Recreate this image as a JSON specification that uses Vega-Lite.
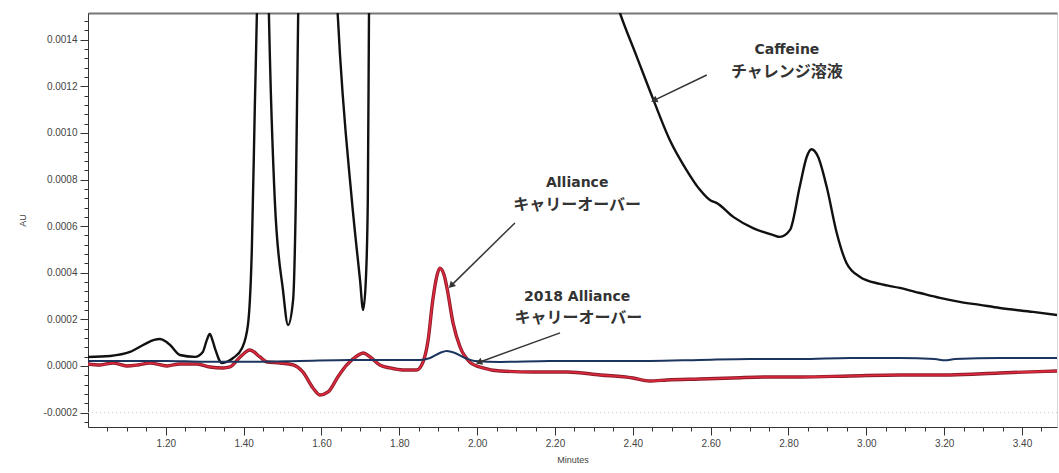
{
  "$schema": "https://vega.github.io/schema/vega-lite/v6.json",
  "width": 969,
  "height": 414,
  "autosize": {"type": "none"},
  "padding": {"left": 88, "top": 13, "right": 2, "bottom": 46},
  "background": "white",
  "config": {
    "view": {"stroke": "#d8d8d8", "strokeWidth": 1},
    "axis": {
      "grid": false,
      "labelFont": "Liberation Sans",
      "titleFont": "Liberation Sans",
      "labelColor": "#444",
      "titleColor": "#444",
      "domainColor": "#333",
      "tickColor": "#333",
      "labelFontSize": 10,
      "titleFontSize": 9,
      "titleFontWeight": "normal"
    }
  },
  "datasets": {
    "caffeine": [
      {"t": 1.000, "au": 0.0000386}, {"t": 1.057, "au": 0.000043}, {"t": 1.108, "au": 0.00006},
      {"t": 1.146, "au": 0.000094}, {"t": 1.170, "au": 0.000112}, {"t": 1.185, "au": 0.000116},
      {"t": 1.200, "au": 0.000105}, {"t": 1.211, "au": 0.00009}, {"t": 1.236, "au": 0.000047},
      {"t": 1.275, "au": 0.000039}, {"t": 1.295, "au": 0.00006}, {"t": 1.305, "au": 0.00011},
      {"t": 1.313, "au": 0.000137}, {"t": 1.320, "au": 0.00011}, {"t": 1.326, "au": 0.000077},
      {"t": 1.344, "au": 0.000013}, {"t": 1.373, "au": 0.000034}, {"t": 1.396, "au": 0.000077},
      {"t": 1.411, "au": 0.000176}, {"t": 1.421, "au": 0.0005}, {"t": 1.429, "au": 0.00114},
      {"t": 1.434, "au": 0.001515}, {"t": 1.447, "au": 0.0035}, {"t": 1.465, "au": 0.0015},
      {"t": 1.480, "au": 0.000712}, {"t": 1.501, "au": 0.000326}, {"t": 1.514, "au": 0.000176},
      {"t": 1.527, "au": 0.000283}, {"t": 1.534, "au": 0.000712}, {"t": 1.540, "au": 0.0015},
      {"t": 1.591, "au": 0.004}, {"t": 1.642, "au": 0.0015}, {"t": 1.678, "au": 0.000712},
      {"t": 1.699, "au": 0.000369}, {"t": 1.707, "au": 0.00024}, {"t": 1.714, "au": 0.00037},
      {"t": 1.719, "au": 0.000712}, {"t": 1.722, "au": 0.0015}, {"t": 1.75, "au": 0.006},
      {"t": 2.0, "au": 0.006}, {"t": 2.30, "au": 0.0019}, {"t": 2.367, "au": 0.001515},
      {"t": 2.410, "au": 0.001328}, {"t": 2.453, "au": 0.001142}, {"t": 2.495, "au": 0.00097},
      {"t": 2.538, "au": 0.000841}, {"t": 2.573, "au": 0.000755}, {"t": 2.600, "au": 0.00071},
      {"t": 2.615, "au": 0.0007}, {"t": 2.658, "au": 0.00064}, {"t": 2.709, "au": 0.000592},
      {"t": 2.761, "au": 0.000562}, {"t": 2.778, "au": 0.000554}, {"t": 2.804, "au": 0.000584},
      {"t": 2.829, "au": 0.00077}, {"t": 2.847, "au": 0.000898}, {"t": 2.859, "au": 0.00093},
      {"t": 2.876, "au": 0.000898}, {"t": 2.898, "au": 0.00077}, {"t": 2.924, "au": 0.000571},
      {"t": 2.949, "au": 0.000442}, {"t": 2.984, "au": 0.000382}, {"t": 3.035, "au": 0.000352},
      {"t": 3.086, "au": 0.000335}, {"t": 3.138, "au": 0.000313}, {"t": 3.189, "au": 0.000292},
      {"t": 3.240, "au": 0.000275}, {"t": 3.292, "au": 0.000262}, {"t": 3.343, "au": 0.000249},
      {"t": 3.428, "au": 0.000232}, {"t": 3.490, "au": 0.000219}
    ],
    "alliance": [
      {"t": 1.000, "au": 0.0000086}, {"t": 1.031, "au": 0.0000043}, {"t": 1.064, "au": 0.0000129},
      {"t": 1.100, "au": 0.0}, {"t": 1.128, "au": 0.0000043}, {"t": 1.159, "au": 0.0000129},
      {"t": 1.203, "au": 0.0}, {"t": 1.236, "au": 0.0000086}, {"t": 1.280, "au": 0.0000086},
      {"t": 1.313, "au": -0.0000043}, {"t": 1.347, "au": -0.0000086}, {"t": 1.365, "au": -0.0000043},
      {"t": 1.391, "au": 0.0000386}, {"t": 1.416, "au": 0.0000687}, {"t": 1.442, "au": 0.0000386},
      {"t": 1.460, "au": 0.0000172}, {"t": 1.493, "au": 0.0000129}, {"t": 1.527, "au": 0.0000043},
      {"t": 1.552, "au": -0.0000258}, {"t": 1.578, "au": -0.0000944}, {"t": 1.596, "au": -0.0001245},
      {"t": 1.617, "au": -0.0001116}, {"t": 1.642, "au": -0.0000472}, {"t": 1.665, "au": 0.0000043},
      {"t": 1.691, "au": 0.0000429}, {"t": 1.707, "au": 0.0000558}, {"t": 1.725, "au": 0.0000386},
      {"t": 1.750, "au": 0.0000043}, {"t": 1.776, "au": -0.0000086}, {"t": 1.809, "au": -0.0000172},
      {"t": 1.845, "au": -0.0000172}, {"t": 1.861, "au": 0.0000172}, {"t": 1.874, "au": 0.0001116},
      {"t": 1.886, "au": 0.000283}, {"t": 1.897, "au": 0.00039}, {"t": 1.904, "au": 0.00042},
      {"t": 1.915, "au": 0.00039}, {"t": 1.922, "au": 0.000339}, {"t": 1.938, "au": 0.000185},
      {"t": 1.956, "au": 0.0000815}, {"t": 1.981, "au": 0.0000172}, {"t": 2.015, "au": -0.0000086},
      {"t": 2.059, "au": -0.0000215}, {"t": 2.143, "au": -0.0000258}, {"t": 2.231, "au": -0.0000258},
      {"t": 2.316, "au": -0.0000386}, {"t": 2.400, "au": -0.0000515}, {"t": 2.444, "au": -0.0000644},
      {"t": 2.488, "au": -0.00006}, {"t": 2.572, "au": -0.0000558}, {"t": 2.657, "au": -0.0000515},
      {"t": 2.745, "au": -0.0000472}, {"t": 2.829, "au": -0.0000472}, {"t": 2.958, "au": -0.0000429},
      {"t": 3.086, "au": -0.0000386}, {"t": 3.215, "au": -0.0000386}, {"t": 3.343, "au": -0.00003},
      {"t": 3.490, "au": -0.0000215}
    ],
    "alliance2018": [
      {"t": 1.000, "au": 0.0000215}, {"t": 1.100, "au": 0.0000215}, {"t": 1.200, "au": 0.0000215},
      {"t": 1.300, "au": 0.000018}, {"t": 1.400, "au": 0.000018}, {"t": 1.545, "au": 0.0000215},
      {"t": 1.673, "au": 0.0000258}, {"t": 1.853, "au": 0.0000258}, {"t": 1.879, "au": 0.0000343},
      {"t": 1.904, "au": 0.0000558}, {"t": 1.922, "au": 0.0000644}, {"t": 1.943, "au": 0.0000558},
      {"t": 1.969, "au": 0.0000343}, {"t": 1.994, "au": 0.0000215}, {"t": 2.059, "au": 0.0000172},
      {"t": 2.187, "au": 0.0000215}, {"t": 2.316, "au": 0.0000215}, {"t": 2.444, "au": 0.0000215},
      {"t": 2.572, "au": 0.0000258}, {"t": 2.701, "au": 0.00003}, {"t": 2.829, "au": 0.00003},
      {"t": 2.958, "au": 0.0000343}, {"t": 3.086, "au": 0.0000343}, {"t": 3.176, "au": 0.00003},
      {"t": 3.202, "au": 0.000024}, {"t": 3.228, "au": 0.00003}, {"t": 3.343, "au": 0.0000343},
      {"t": 3.490, "au": 0.0000343}
    ],
    "labels": [
      {"x": 2.796, "y": 0.001356, "text": "Caffeine", "kind": "latin"},
      {"x": 2.796, "y": 0.001262, "text": "チャレンジ溶液", "kind": "jp"},
      {"x": 2.257, "y": 0.000785, "text": "Alliance", "kind": "latin"},
      {"x": 2.257, "y": 0.000691, "text": "キャリーオーバー", "kind": "jp"},
      {"x": 2.257, "y": 0.000298, "text": "2018 Alliance", "kind": "latin"},
      {"x": 2.260, "y": 0.000204, "text": "キャリーオーバー", "kind": "jp"}
    ],
    "arrows": [
      {"name": "caf", "x": 2.590, "y": 0.001249, "x2": 2.457, "y2": 0.001142},
      {"name": "all", "x": 2.097, "y": 0.000614, "x2": 1.935, "y2": 0.000348},
      {"name": "a18", "x": 2.213, "y": 0.000142, "x2": 2.007, "y2": 0.0000172}
    ],
    "gridline": [{"v": -0.0002}]
  },
  "layer": [
    {
      "data": {"name": "gridline"},
      "mark": {"type": "rule", "color": "#c8c8c8", "strokeDash": [1, 3], "strokeWidth": 1},
      "encoding": {
        "y": {"field": "v", "type": "quantitative", "scale": {"domain": [-0.000262, 0.001515], "nice": false, "zero": false}, "axis": null}
      }
    },
    {
      "data": {"name": "caffeine"},
      "mark": {"type": "line", "color": "#111111", "strokeWidth": 2.4, "clip": true, "interpolate": "monotone"},
      "encoding": {
        "x": {"field": "t", "type": "quantitative", "scale": {"domain": [1.0, 3.49], "nice": false, "zero": false},
              "axis": {"orient": "bottom",
                       "values": [1.05, 1.1, 1.15, 1.2, 1.25, 1.3, 1.35, 1.4, 1.45, 1.5, 1.55, 1.6, 1.65, 1.7, 1.75, 1.8, 1.85, 1.9, 1.95, 2.0, 2.05, 2.1, 2.15, 2.2, 2.25, 2.3, 2.35, 2.4, 2.45, 2.5, 2.55, 2.6, 2.65, 2.7, 2.75, 2.8, 2.85, 2.9, 2.95, 3.0, 3.05, 3.1, 3.15, 3.2, 3.25, 3.3, 3.35, 3.4, 3.45],
                       "labelExpr": "abs(datum.value * 5 - round(datum.value * 5)) < 0.001 ? format(datum.value, '.2f') : ''",
                       "tickSize": {"condition": {"test": "abs(datum.value * 5 - round(datum.value * 5)) < 0.001", "value": 8}, "value": 4},
                       "labelOverlap": false, "labelBound": false, "labelPadding": 3,
                       "title": "Minutes", "titlePadding": 7}},
        "y": {"field": "au", "type": "quantitative", "scale": {"domain": [-0.000262, 0.001515], "nice": false, "zero": false},
              "axis": {"orient": "left",
                       "values": [-0.00024, -0.0002, -0.00016, -0.00012, -0.00008, -0.00004, 0, 0.00004, 0.00008, 0.00012, 0.00016, 0.0002, 0.00024, 0.00028, 0.00032, 0.00036, 0.0004, 0.00044, 0.00048, 0.00052, 0.00056, 0.0006, 0.00064, 0.00068, 0.00072, 0.00076, 0.0008, 0.00084, 0.00088, 0.00092, 0.00096, 0.001, 0.00104, 0.00108, 0.00112, 0.00116, 0.0012, 0.00124, 0.00128, 0.00132, 0.00136, 0.0014, 0.00144, 0.00148],
                       "labelExpr": "abs(datum.value * 5000 - round(datum.value * 5000)) < 0.001 ? replace(format(datum.value, '.4f'), '\u2212', '-') : ''",
                       "tickSize": {"condition": {"test": "abs(datum.value * 5000 - round(datum.value * 5000)) < 0.001", "value": 8}, "value": 4},
                       "labelOverlap": false, "labelBound": false, "labelPadding": 3,
                       "title": "AU", "titlePadding": 16}}
      }
    },
    {
      "data": {"name": "alliance"},
      "mark": {"type": "line", "color": "#8a1c2c", "strokeWidth": 3.4, "clip": true, "interpolate": "monotone"},
      "encoding": {
        "x": {"field": "t", "type": "quantitative", "scale": {"domain": [1.0, 3.49], "nice": false, "zero": false}, "axis": null},
        "y": {"field": "au", "type": "quantitative", "scale": {"domain": [-0.000262, 0.001515], "nice": false, "zero": false}, "axis": null}
      }
    },
    {
      "data": {"name": "alliance"},
      "mark": {"type": "line", "color": "#e02a3c", "strokeWidth": 1.6, "clip": true, "interpolate": "monotone"},
      "encoding": {
        "x": {"field": "t", "type": "quantitative", "scale": {"domain": [1.0, 3.49], "nice": false, "zero": false}, "axis": null},
        "y": {"field": "au", "type": "quantitative", "scale": {"domain": [-0.000262, 0.001515], "nice": false, "zero": false}, "axis": null}
      }
    },
    {
      "data": {"name": "alliance2018"},
      "mark": {"type": "line", "color": "#1b355e", "strokeWidth": 2, "clip": true, "interpolate": "monotone"},
      "encoding": {
        "x": {"field": "t", "type": "quantitative", "scale": {"domain": [1.0, 3.49], "nice": false, "zero": false},
              "axis": {"orient": "top", "ticks": false, "labels": false, "domainColor": "#777777", "domainWidth": 2, "title": null}},
        "y": {"field": "au", "type": "quantitative", "scale": {"domain": [-0.000262, 0.001515], "nice": false, "zero": false}, "axis": null}
      }
    },
    {
      "data": {"name": "arrows"},
      "mark": {"type": "rule", "color": "#333333", "strokeWidth": 1.5},
      "encoding": {
        "x": {"field": "x", "type": "quantitative", "scale": {"domain": [1.0, 3.49], "nice": false, "zero": false}, "axis": null},
        "y": {"field": "y", "type": "quantitative", "scale": {"domain": [-0.000262, 0.001515], "nice": false, "zero": false}, "axis": null},
        "x2": {"field": "x2"},
        "y2": {"field": "y2"}
      }
    },
    {
      "data": {"name": "arrows"},
      "transform": [{"filter": "datum.name === 'caf'"}],
      "mark": {"type": "point", "shape": "triangle", "angle": 244, "filled": true, "size": 55, "color": "#333333", "opacity": 1},
      "encoding": {
        "x": {"field": "x2", "type": "quantitative", "scale": {"domain": [1.0, 3.49], "nice": false, "zero": false}, "axis": null},
        "y": {"field": "y2", "type": "quantitative", "scale": {"domain": [-0.000262, 0.001515], "nice": false, "zero": false}, "axis": null}
      }
    },
    {
      "data": {"name": "arrows"},
      "transform": [{"filter": "datum.name === 'all'"}],
      "mark": {"type": "point", "shape": "triangle", "angle": 225, "filled": true, "size": 55, "color": "#333333", "opacity": 1},
      "encoding": {
        "x": {"field": "x2", "type": "quantitative", "scale": {"domain": [1.0, 3.49], "nice": false, "zero": false}, "axis": null},
        "y": {"field": "y2", "type": "quantitative", "scale": {"domain": [-0.000262, 0.001515], "nice": false, "zero": false}, "axis": null}
      }
    },
    {
      "data": {"name": "arrows"},
      "transform": [{"filter": "datum.name === 'a18'"}],
      "mark": {"type": "point", "shape": "triangle", "angle": 250, "filled": true, "size": 55, "color": "#333333", "opacity": 1},
      "encoding": {
        "x": {"field": "x2", "type": "quantitative", "scale": {"domain": [1.0, 3.49], "nice": false, "zero": false}, "axis": null},
        "y": {"field": "y2", "type": "quantitative", "scale": {"domain": [-0.000262, 0.001515], "nice": false, "zero": false}, "axis": null}
      }
    },
    {
      "data": {"name": "labels"},
      "transform": [{"filter": "datum.kind === 'latin'"}],
      "mark": {"type": "text", "font": "DejaVu Sans", "fontWeight": "bold", "fontSize": 14, "color": "#333333", "align": "center", "baseline": "middle"},
      "encoding": {
        "x": {"field": "x", "type": "quantitative", "scale": {"domain": [1.0, 3.49], "nice": false, "zero": false}, "axis": null},
        "y": {"field": "y", "type": "quantitative", "scale": {"domain": [-0.000262, 0.001515], "nice": false, "zero": false}, "axis": null},
        "text": {"field": "text"}
      }
    },
    {
      "data": {"name": "labels"},
      "transform": [{"filter": "datum.kind === 'jp'"}],
      "mark": {"type": "text", "font": "Noto Sans CJK JP", "fontWeight": "bold", "fontSize": 16, "color": "#333333", "align": "center", "baseline": "middle"},
      "encoding": {
        "x": {"field": "x", "type": "quantitative", "scale": {"domain": [1.0, 3.49], "nice": false, "zero": false}, "axis": null},
        "y": {"field": "y", "type": "quantitative", "scale": {"domain": [-0.000262, 0.001515], "nice": false, "zero": false}, "axis": null},
        "text": {"field": "text"}
      }
    }
  ],
  "resolve": {"axis": {"x": "independent", "y": "independent"}}
}
